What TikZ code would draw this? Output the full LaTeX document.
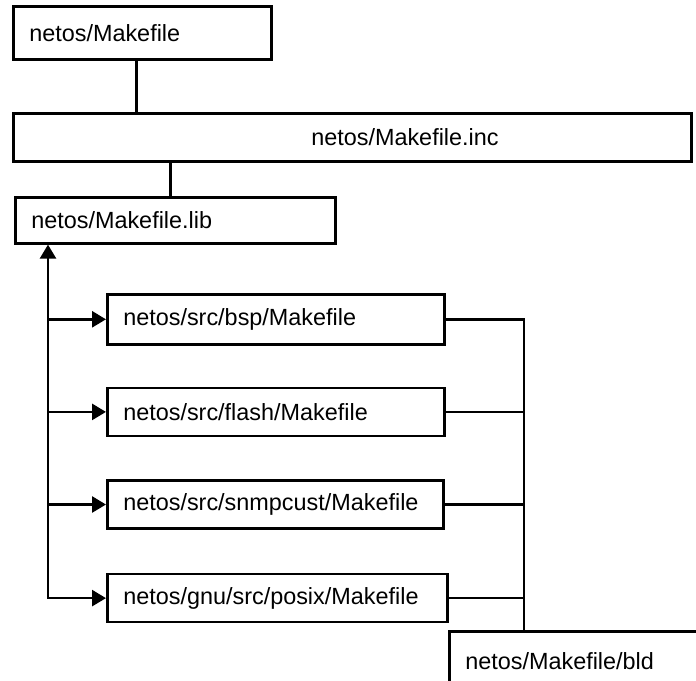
\documentclass[tikz,border=0pt]{standalone}
\usepackage{fontspec}
\setmainfont{Liberation Sans}
\usetikzlibrary{positioning, arrows.meta}

\begin{document}
\begin{tikzpicture}
[x=0.5pt, y=-0.5pt, line width=1.3pt, font=\fontsize{11.7}{13}\selectfont,
 >={Triangle[length=7pt, width=8pt]},
 box/.style={draw, anchor=north west, inner xsep=8pt, inner ysep=0pt, align=left, text width=#1}]

\useasboundingbox (0,0) rectangle (696,680);

\node [box=113pt, minimum height=26.5pt] (mk) at (12,5) {netos/Makefile};
\node [box=323pt, minimum height=24pt,
  label={[anchor=west, inner sep=0pt, xshift=149pt]west:netos/Makefile.inc}] (inc) at (12,112) {};
\node [box=144pt, minimum height=23pt] (lib) at (14,196) {netos/Makefile.lib};

\node [box=152.5pt, minimum height=25pt] (bsp) at (106,293) {netos/src/bsp/Makefile};
\node [box=152.5pt, minimum height=24pt, below=20.5pt of bsp.south west, anchor=north west] (flash) {netos/src/flash/Makefile};
\node [box=152pt, minimum height=24pt, below=21pt of flash.south west, anchor=north west] (snmp) {netos/src/snmpcust/Makefile};
\node [box=154pt, minimum height=24pt, below=21.5pt of snmp.south west, anchor=north west] (posix) {netos/gnu/src/posix/Makefile};

\node [box=134pt, minimum height=30pt] (bld) at (448,630) {netos/Makefile/bld};

\coordinate (busL) at (48,0);
\coordinate (busR) at (524,0);

\draw ([xshift=-3pt]mk.south) -- ([xshift=-3pt]mk.south |- inc.north);
\draw ([xshift=-2.5pt]lib.north) -- ([xshift=-2.5pt]lib.north |- inc.south);

\draw [<->] (busL |- lib.south) -- (busL |- posix.west) -- (posix.west);
\foreach \f in {bsp, flash, snmp}
  \draw [->] (busL |- \f.west) -- (\f.west);

\draw (bsp.east) -- (busR |- bsp.east) -- (busR |- bld.north);
\foreach \f in {flash, snmp, posix}
  \draw (\f.east) -- (busR |- \f.east);

\end{tikzpicture}
\end{document}
